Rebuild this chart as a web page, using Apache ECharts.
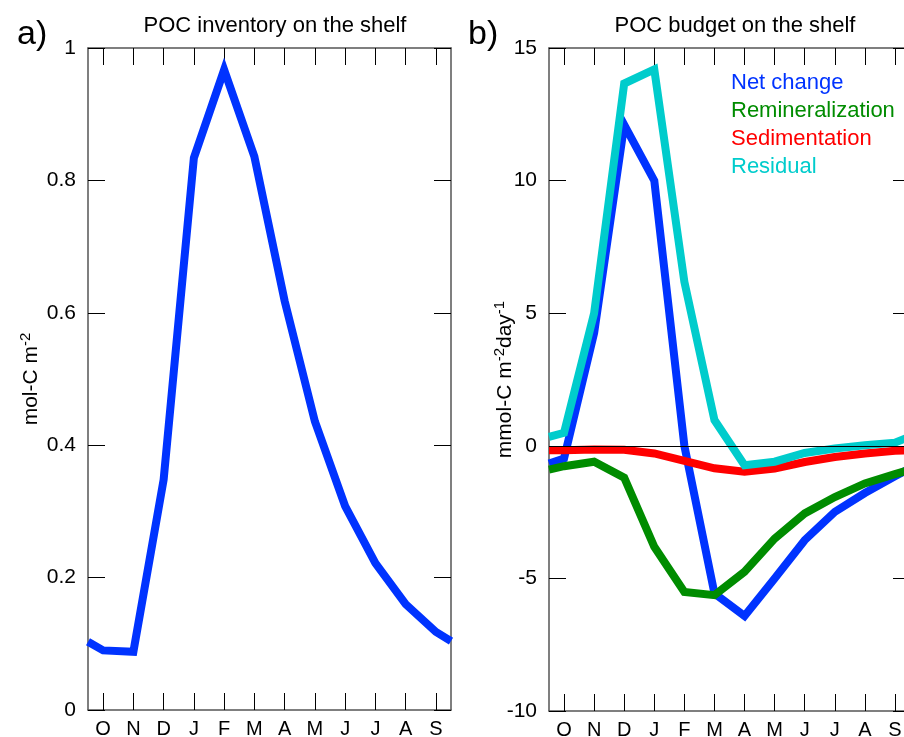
<!DOCTYPE html>
<html style="height: 100%">
<head>
 <meta charset="utf-8">
 <title>POC on the shelf</title>
 <script src="https://cdn.jsdelivr.net/npm/echarts@6/dist/echarts.min.js"></script>
</head>
<body style="height: 100%; margin: 0; background: #fff">
 <div id="main" style="width: 904px; height: 737px"></div>
 <script type="text/javascript">
 // months, ticks in the middle of each month, starting in October
 var months = ['O', 'N', 'D', 'J', 'F', 'M', 'A', 'M', 'J', 'J', 'A', 'S'];
 // x position of each point: the two ends are the year boundaries
 var xPos = [-0.5, 0, 1, 2, 3, 4, 5, 6, 7, 8, 9, 10, 11, 11.5];

 // a) POC inventory (mol-C m-2)
 var inventory = [0.103, 0.09, 0.088, 0.348, 0.834, 0.967, 0.836, 0.618, 0.436, 0.308, 0.222, 0.16, 0.118, 0.104];

 // b) POC budget (mmol-C m-2 day-1)
 var netChange = [-0.67, -0.48, 4.25, 12.1, 10.0, 0.0, -5.57, -6.42, -5.0, -3.56, -2.49, -1.78, -1.15, -0.85];
 var remineral = [-0.9, -0.77, -0.6, -1.2, -3.81, -5.51, -5.63, -4.75, -3.5, -2.55, -1.93, -1.42, -1.07, -0.9];
 var sediment = [-0.17, -0.17, -0.14, -0.15, -0.29, -0.57, -0.85, -0.98, -0.86, -0.61, -0.42, -0.29, -0.19, -0.17];
 var residual = [0.34, 0.49, 5.0, 13.66, 14.19, 6.18, 0.97, -0.73, -0.6, -0.27, -0.1, 0.02, 0.12, 0.35];

 var names = ['Net change', 'Remineralization', 'Sedimentation', 'Residual'];
 var colors = ['#0033ff', '#008c00', '#ff0000', '#00cccc'];

 var font = "'Liberation Sans', Arial, sans-serif";
 var frame = { show: true, onZero: false, lineStyle: { color: '#555', width: 1.5 } };
 var tick = { show: true, inside: true, length: 17, lineStyle: { color: '#000', width: 1 } };
 var titleStyle = { fontSize: 22, fontWeight: 'normal', color: '#000', fontFamily: font };
 var panelStyle = { fontSize: 34, fontWeight: 'normal', color: '#000', fontFamily: font };

 function pairs(vals) {
 return vals.map(function (v, i) { return [xPos[i], v]; });
 }

 // bottom/top month axes and the hidden value axis used by the data, per grid
 function monthAxes(g) {
 return [
 {
 type: 'category', gridIndex: g, position: 'bottom', data: months,
 boundaryGap: true, axisLine: frame,
 axisTick: Object.assign({ alignWithLabel: true }, tick),
 axisLabel: { color: '#000', fontSize: 20, fontFamily: font, margin: 9 },
 splitLine: { show: false }
 },
 {
 type: 'category', gridIndex: g, position: 'top', data: months,
 boundaryGap: true, axisLine: frame,
 axisTick: Object.assign({ alignWithLabel: true }, tick),
 axisLabel: { show: false }, splitLine: { show: false }
 },
 {
 type: 'value', gridIndex: g, min: -0.5, max: 11.5, show: false,
 axisLine: { onZero: false }
 }
 ];
 }

 var supRich = {
 n: { fontSize: 21, fontFamily: font, color: '#000' },
 s: { fontSize: 15, fontFamily: font, color: '#000', verticalAlign: 'top', padding: [0, 0, 11, 0] }
 };

 var myChart = echarts.init(document.getElementById('main'), null, { renderer: 'canvas' });

 var option = {
 animation: false,
 backgroundColor: '#fff',
 textStyle: { fontFamily: font },
 title: [
 { text: 'a)', left: 12, top: 13, textStyle: panelStyle },
 { text: 'POC inventory on the shelf', left: 270, top: 10, textAlign: 'center', textStyle: titleStyle },
 { text: 'b)', left: 463, top: 13, textStyle: panelStyle },
 { text: 'POC budget on the shelf', left: 730, top: 10, textAlign: 'center', textStyle: titleStyle }
 ],
 legend: {
 orient: 'vertical',
 left: 721, top: 67,
 icon: 'none', itemWidth: 0, itemHeight: 14, itemGap: 6,
 selectedMode: false,
 textStyle: { fontSize: 22, fontFamily: font },
 data: names.map(function (n, i) { return { name: n, textStyle: { color: colors[i] } }; })
 },
 grid: [
 { left: 88, top: 48, width: 363, height: 662, outerBoundsMode: 'none' },
 { left: 549, top: 48, width: 361, height: 663, outerBoundsMode: 'none' }
 ],
 xAxis: monthAxes(0).concat(monthAxes(1)),
 yAxis: [
 {
 type: 'value', gridIndex: 0, position: 'left', min: 0, max: 1, interval: 0.2,
 axisLine: frame, axisTick: tick, splitLine: { show: false },
 axisLabel: { color: '#000', fontSize: 21, fontFamily: font, margin: 12 },
 name: '{n|mol-C m}{s|-2}', nameLocation: 'middle', nameGap: 44, nameRotate: 90,
 nameMoveOverlap: false,
 nameTextStyle: { rich: supRich }
 },
 {
 type: 'value', gridIndex: 0, position: 'right', min: 0, max: 1, interval: 0.2,
 axisLine: frame, axisTick: tick, splitLine: { show: false }, axisLabel: { show: false }
 },
 {
 type: 'value', gridIndex: 1, position: 'left', min: -10, max: 15, interval: 5,
 axisLine: frame, axisTick: tick, splitLine: { show: false },
 axisLabel: { color: '#000', fontSize: 21, fontFamily: font, margin: 12 },
 name: '{n|mmol-C m}{s|-2}{n|day}{s|-1}', nameLocation: 'middle', nameGap: 31, nameRotate: 90,
 nameMoveOverlap: false,
 nameTextStyle: { rich: supRich }
 },
 {
 type: 'value', gridIndex: 1, position: 'right', min: -10, max: 15, interval: 5,
 axisLine: frame, axisTick: tick, splitLine: { show: false }, axisLabel: { show: false }
 }
 ],
 series: [
 {
 name: 'POC inventory', type: 'line', xAxisIndex: 2, yAxisIndex: 0,
 data: pairs(inventory), showSymbol: false, silent: true,
 lineStyle: { color: '#0033ff', width: 8, join: 'miter' }
 }
 ].concat([netChange, remineral, sediment, residual].map(function (vals, i) {
 var s = {
 name: names[i], type: 'line', xAxisIndex: 5, yAxisIndex: 2,
 data: pairs(vals), showSymbol: false, silent: true,
 itemStyle: { color: colors[i] },
 lineStyle: { color: colors[i], width: 8, join: 'miter' }
 };
 if (i === 0) {
 s.markLine = {
 silent: true, symbol: 'none', label: { show: false },
 lineStyle: { color: '#000', width: 1, type: 'solid' },
 data: [{ yAxis: 0 }]
 };
 }
 return s;
 }))
 };

 myChart.setOption(option);
 </script>
</body>
</html>
